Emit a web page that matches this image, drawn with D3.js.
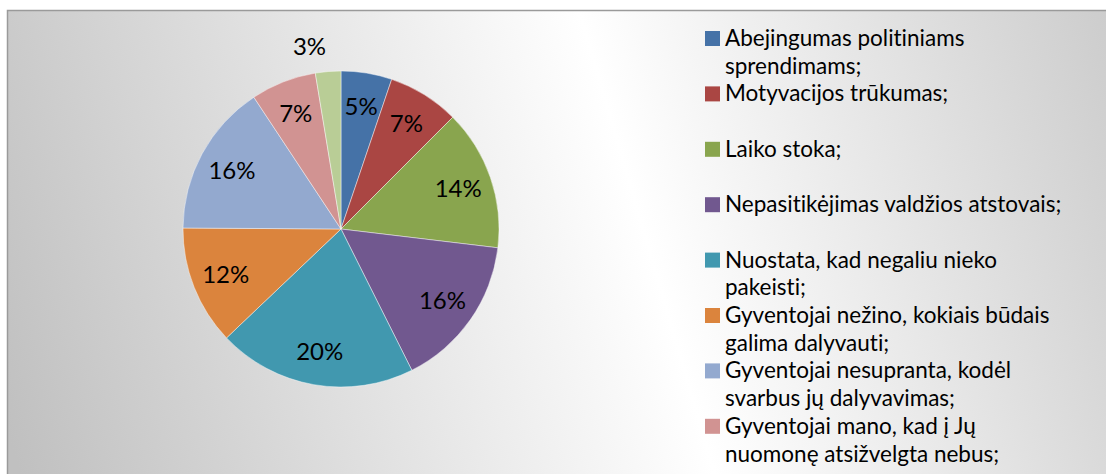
<!DOCTYPE html>
<html lang="lt">
    <head>
        <meta charset="utf-8">
        <title>Pie</title>
        <script src="https://cdn.jsdelivr.net/npm/d3@7"></script>
        <style>
            body { margin: 0; background: #fff; }
            text { font-variant-ligatures: none; }
        </style>
    </head>
    <body>
        <script type="text/javascript">

            // Data (legend entries, split into the lines they show on)
            var categories = [
                ["Abejingumas politiniams", "sprendimams;"],
                ["Motyvacijos trūkumas;"],
                ["Laiko stoka;"],
                ["Nepasitikėjimas valdžios atstovais;"],
                ["Nuostata, kad negaliu nieko", "pakeisti;"],
                ["Gyventojai nežino, kokiais būdais", "galima dalyvauti;"],
                ["Gyventojai nesupranta, kodėl", "svarbus jų dalyvavimas;"],
                ["Gyventojai mano, kad į Jų", "nuomonę atsižvelgta nebus;"],
                ["Kita;"]
            ];
            var values = [5.2, 7.3, 14.4, 15.7, 20.3, 12.2, 15.6, 6.7, 2.6];
            var colors = ["#4572A7", "#AA4643", "#89A54E", "#71588F", "#4198AF",
                          "#DB843D", "#93A9CF", "#D19392", "#B9CD96"];

            var w = 1106, h = 474;
            var cx = 341, cy = 229, r = 158;
            var font = "Lato, 'Open Sans', sans-serif";

            var svg = d3.select("body").append("svg")
                        .attr("width", w)
                        .attr("height", h);

            // background gradient (gray - white - gray)
            var grad = svg.append("defs").append("linearGradient")
                          .attr("id", "bg")
                          .attr("gradientUnits", "userSpaceOnUse")
                          .attr("x1", 20).attr("y1", 474)
                          .attr("x2", 1300).attr("y2", 100);
            grad.append("stop").attr("offset", 0).attr("stop-color", "#c0c0c0");
            grad.append("stop").attr("offset", 0.5).attr("stop-color", "#ffffff");
            grad.append("stop").attr("offset", 1).attr("stop-color", "#bdbdbd");

            svg.append("rect")
               .attr("x", 7.5).attr("y", 10.5)
               .attr("width", 1200).attr("height", 600)
               .attr("fill", "url(#bg)")
               .attr("stroke", "#9a9a9a")
               .attr("stroke-width", 1.5);

            var keys = categories.map(function(c) { return c.join(" "); });
            var color = d3.scaleOrdinal().domain(keys).range(colors);
            var total = d3.sum(values);
            var fmt = d3.format(".0%");

            var pie = d3.pie().sort(null).value(function(d) { return d.v; });
            var data = pie(keys.map(function(c, i) { return {c: c, v: values[i]}; }));

            var arc = d3.arc().innerRadius(0).outerRadius(r);
            var labelArc = d3.arc().innerRadius(124).outerRadius(124);
            var outArc = d3.arc().innerRadius(183).outerRadius(183);

            var g = svg.append("g").attr("transform", "translate(" + cx + "," + cy + ")");

            g.selectAll("path")
             .data(data)
             .enter()
             .append("path")
             .attr("d", arc)
             .attr("fill", function(d) { return color(d.data.c); })
             .attr("stroke", "rgba(255,255,255,0.55)")
             .attr("stroke-width", 0.8);

            g.selectAll("text")
             .data(data)
             .enter()
             .append("text")
             .text(function(d) { return fmt(d.data.v / total); })
             .attr("transform", function(d) {
                 var p = d.data.v < 4 ? outArc.centroid(d) : labelArc.centroid(d);
                 return "translate(" + p + ")";
             })
             .attr("text-anchor", function(d) {
                 if (d.data.v >= 4) return "middle";
                 var mid = (d.startAngle + d.endAngle) / 2;
                 return mid > Math.PI ? "end" : "start";
             })
             .attr("dy", "0.36em")
             .attr("font-family", font)
             .attr("font-size", "24px")
             .attr("fill", "#000");

            // Legend - only entries that fit inside the chart area are shown
            var legX = 705, legY = 46, itemH = 55.4, lineH = 27.8;

            var shown = categories.filter(function(d, i) { return legY + i * itemH < h; });

            var items = svg.append("g").selectAll("g")
                           .data(shown)
                           .enter()
                           .append("g")
                           .attr("transform", function(d, i) {
                               return "translate(" + legX + "," + (legY + i * itemH) + ")";
                           });

            items.append("rect")
                 .attr("x", 0).attr("y", -15)
                 .attr("width", 15).attr("height", 15)
                 .attr("fill", function(d) { return color(d.join(" ")); });

            items.append("text")
                 .attr("font-family", font)
                 .attr("font-size", "22.5px")
                 .attr("fill", "#000")
                 .selectAll("tspan")
                 .data(function(d) { return d; })
                 .enter()
                 .append("tspan")
                 .attr("x", 20)
                 .attr("y", function(d, j) { return j * lineH; })
                 .text(function(d) { return d; });

        </script>
    </body>
</html>
